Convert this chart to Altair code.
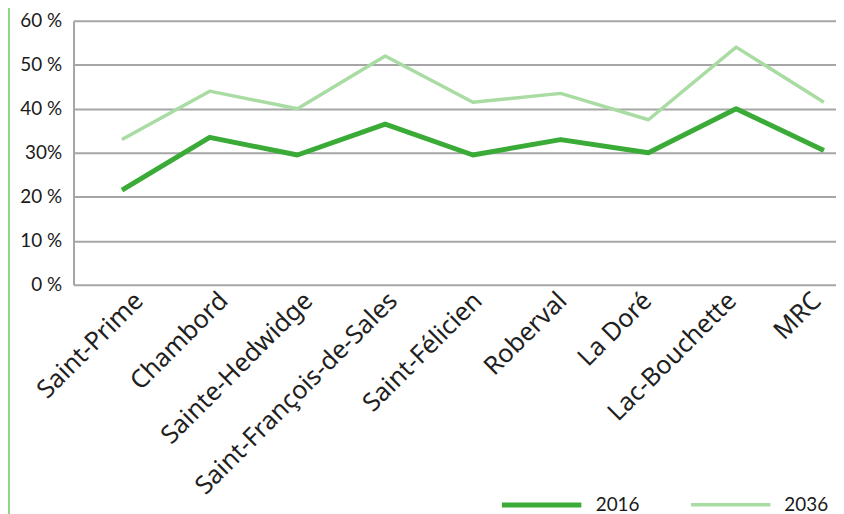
import altair as alt
import pandas as pd

categories = ["Saint-Prime", "Chambord", "Sainte-Hedwidge", "Saint-François-de-Sales",
              "Saint-Félicien", "Roberval", "La Doré", "Lac-Bouchette", "MRC"]
values_2016 = [21.5, 33.5, 29.5, 36.5, 29.5, 33.0, 30.0, 40.0, 30.5]
values_2036 = [33.0, 44.0, 40.0, 52.0, 41.5, 43.5, 37.5, 54.0, 41.5]
series = ["2016", "2036"]
y_ticks = [0, 10, 20, 30, 40, 50, 60]

rows = []
for i, c in enumerate(categories):
    rows.append({"commune": c, "annee": series[0], "part": values_2016[i], "ordre": 0})
    rows.append({"commune": c, "annee": series[1], "part": values_2036[i], "ordre": 1})
df = pd.DataFrame(rows)
cat_df = pd.DataFrame({"commune": categories})

W, H = 768, 266

lines = alt.Chart(df).mark_line(strokeJoin="round", strokeCap="butt").encode(
    x=alt.X("commune:N", sort=categories,
            scale=alt.Scale(type="point", padding=0.345, align=0.8),
            axis=None),
    y=alt.Y("part:Q", scale=alt.Scale(domain=[0, 60], nice=False),
            axis=alt.Axis(title=None, values=y_ticks, labelFont="Lato", labelFontSize=19,
                          labelColor="#1a1a1a", labelPadding=12, ticks=False,
                          domain=True, domainColor="#a6a6a6", domainWidth=2,
                          grid=True, gridColor="#a6a6a6", gridWidth=2,
                          labelExpr="datum.value == 30 ? '30%' : datum.value + ' %'")),
    color=alt.Color("annee:N", scale=alt.Scale(domain=series, range=["#3aab36", "#a9dca3"]),
                    legend=alt.Legend(title=None, orient="none", legendX=429, legendY=445,
                                      direction="horizontal", symbolType="stroke",
                                      symbolSize=6400, symbolStrokeWidth=5,
                                      labelFont="Lato", labelFontSize=19, labelColor="#1a1a1a",
                                      labelOffset=12, columnPadding=44)),
    strokeWidth=alt.StrokeWidth("annee:N", scale=alt.Scale(domain=series, range=[5, 3.5]), legend=None),
    order="ordre:Q",
)

labels = alt.Chart(cat_df).mark_point(opacity=0).encode(
    x=alt.X("commune:N", sort=categories,
            scale=alt.Scale(type="point", padding=0.498, align=0.67),
            axis=alt.Axis(title=None, orient="bottom", labelAngle=-45,
                          labelFont="Noto Sans",
                          labelFontSize=25.5, labelColor="#1f1f1f", domain=False, ticks=False,
                          grid=False, labelPadding=3, labelAlign="right", labelBaseline="top",
                          labelLimit=500, labelOverlap=False)),
)

border = alt.Chart(pd.DataFrame({"k": [0]})).mark_rule(color="#8fd68a", strokeWidth=2).encode(
    x=alt.value(-65), y=alt.value(-20), y2=alt.value(500)
)

chart = alt.layer(border, lines, labels).resolve_scale(x="independent").resolve_axis(
    x="independent").properties(
    width=W, height=H,
    autosize=alt.AutoSizeParams(type="none"),
    padding={"left": 66, "top": 11, "right": 0, "bottom": 229},
).configure_view(stroke=None).configure(background="white")

chart.save("out.html", embed_options={"renderer": "svg", "actions": False})
